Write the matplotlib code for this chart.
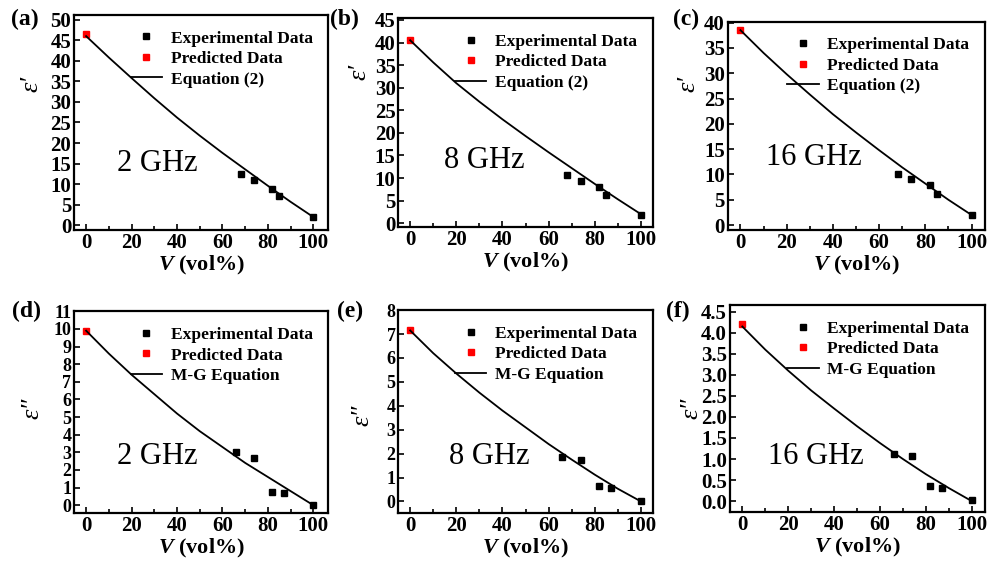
import matplotlib
matplotlib.use("Agg")
import matplotlib.pyplot as plt
from matplotlib.ticker import MultipleLocator, FormatStrFormatter

plt.rcParams['font.family'] = ['Liberation Serif', 'DejaVu Serif']
plt.rcParams['font.weight'] = 'bold'
plt.rcParams['mathtext.fontset'] = 'custom'
plt.rcParams['mathtext.it'] = 'Liberation Serif:italic'
plt.rcParams['mathtext.rm'] = 'Liberation Serif'
plt.rcParams['mathtext.bf'] = 'Liberation Serif:bold'

# volume fraction of experimental samples
v_exp_top = [68, 74, 82, 85, 100]
v_exp_bot = [66, 74, 82, 87, 100]
v_curve = [0, 10, 20, 30, 40, 50, 60, 70, 80, 90, 100]

# real part (top row)
exp_a = [12.5, 11.1, 8.8, 7.0, 2.0]
exp_b = [10.6, 9.3, 8.0, 6.3, 1.9]
exp_c = [10.1, 9.2, 7.9, 6.2, 2.0]
pred_a = 46.4
pred_b = 40.5
pred_c = 38.6
curve_a = [46.0, 40.8, 35.8, 30.9, 26.2, 21.8, 17.6, 13.6, 9.6, 5.7, 2.0]
curve_b = [40.5, 35.6, 31.0, 26.9, 23.0, 19.3, 15.7, 12.2, 8.7, 5.3, 2.0]
curve_c = [38.5, 34.0, 29.8, 25.8, 21.9, 18.3, 14.8, 11.4, 8.2, 5.0, 2.0]

# imaginary part (bottom row)
exp_d = [3.0, 2.7, 0.77, 0.68, 0.0]
exp_e = [1.84, 1.75, 0.63, 0.56, 0.0]
exp_f = [1.11, 1.06, 0.37, 0.30, 0.02]
pred_d = 9.9
pred_e = 7.15
pred_f = 4.2
curve_d = [9.9, 8.6, 7.4, 6.3, 5.2, 4.2, 3.3, 2.4, 1.6, 0.8, 0.0]
curve_e = [7.15, 6.2, 5.35, 4.55, 3.8, 3.1, 2.4, 1.75, 1.12, 0.53, 0.0]
curve_f = [4.15, 3.6, 3.1, 2.63, 2.2, 1.78, 1.38, 1.0, 0.64, 0.31, 0.0]

fig = plt.figure(figsize=(10.01, 5.67), dpi=100)

panels = [
    # rect, v_exp, exp, pred, curve, ylim, ystep, ylabel, eq, freq, freq_pos, ylab_pos, tag, tag_pos, xlim
    ([0.074, 0.594, 0.254, 0.380], v_exp_top, exp_a, pred_a, curve_a, (-1.2, 51.2), 5, "ε′", "Equation (2)", "2 GHz", (0.17, 0.31), (-0.126, 0.68), "(a)", (0.011, 0.965), (-5.3, 106.6)),
    ([0.398, 0.600, 0.254, 0.368], v_exp_top, exp_b, pred_b, curve_b, (-0.8, 45.4), 5, "ε′", "Equation (2)", "8 GHz", (0.18, 0.32), (-0.11, 0.74), "(b)", (0.330, 0.965), (-5.1, 105.1)),
    ([0.727, 0.594, 0.257, 0.368], v_exp_top, exp_c, pred_c, curve_c, (-1.0, 40.2), 5, "ε′", "Equation (2)", "16 GHz", (0.15, 0.35), (-0.11, 0.70), "(c)", (0.672, 0.965), (-5.5, 105.8)),
    ([0.074, 0.095, 0.254, 0.356], v_exp_bot, exp_d, pred_d, curve_d, (-0.45, 11.0), 1, "ε″", "M-G Equation", "2 GHz", (0.17, 0.28), (-0.12, 0.52), "(d)", (0.012, 0.450), (-5.3, 106.6)),
    ([0.398, 0.095, 0.254, 0.358], v_exp_bot, exp_e, pred_e, curve_e, (-0.49, 8.0), 1, "ε″", "M-G Equation", "8 GHz", (0.20, 0.28), (-0.10, 0.48), "(e)", (0.337, 0.450), (-5.1, 105.1)),
    ([0.729, 0.097, 0.255, 0.365], v_exp_bot, exp_f, pred_f, curve_f, (-0.26, 4.66), 0.5, "ε″", "M-G Equation", "16 GHz", (0.15, 0.27), (-0.105, 0.50), "(f)", (0.665, 0.450), (-5.5, 105.8)),
]

for (rect, vx, ex, pr, cv, ylim, ystep, ylab, eq, freq, fpos, lpos, tag, tpos, xlim) in panels:
    ax = fig.add_axes(rect)
    ax.plot(vx, ex, 's', color='black', markersize=5, label='Experimental Data')
    ax.plot([0], [pr], 's', color='red', markersize=5, label='Predicted Data')
    ax.plot(v_curve, cv, '-', color='black', linewidth=1.3, label=eq)
    ax.set_xlim(*xlim)
    ax.set_ylim(*ylim)
    ax.xaxis.set_major_locator(MultipleLocator(20))
    ax.xaxis.set_minor_locator(MultipleLocator(10))
    ax.yaxis.set_major_locator(MultipleLocator(ystep))
    if ystep == 0.5:
        ax.yaxis.set_major_formatter(FormatStrFormatter('%.1f'))
    ysize = 13 if ystep == 1 else 15
    ax.tick_params(which='both', direction='in', width=1.2, pad=2)
    ax.tick_params(axis='x', labelsize=15)
    ax.tick_params(axis='y', labelsize=ysize)
    ax.tick_params(which='major', length=4)
    ax.tick_params(which='minor', length=3)
    for s in ax.spines.values():
        s.set_linewidth(1.6)
    for lab in ax.get_xticklabels() + ax.get_yticklabels():
        lab.set_fontweight('bold')
    ax.set_xlabel("$\\mathit{V}$ (vol%)", fontsize=16, fontweight='bold', labelpad=1)
    ax.set_ylabel(ylab, fontsize=19, fontstyle='italic', fontweight='normal')
    ax.yaxis.set_label_coords(*lpos)
    ax.text(fpos[0], fpos[1], freq, transform=ax.transAxes, fontsize=22,
            fontweight='normal', va='center', ha='left')
    ax.legend(loc='upper right', frameon=False, fontsize=12.5, handlelength=1.8,
              handletextpad=0.5, labelspacing=0.25, borderaxespad=0.5)
    fig.text(tpos[0], tpos[1], tag, fontsize=17, fontweight='bold', va='center', ha='left')

fig.savefig("out.png", dpi=100)
